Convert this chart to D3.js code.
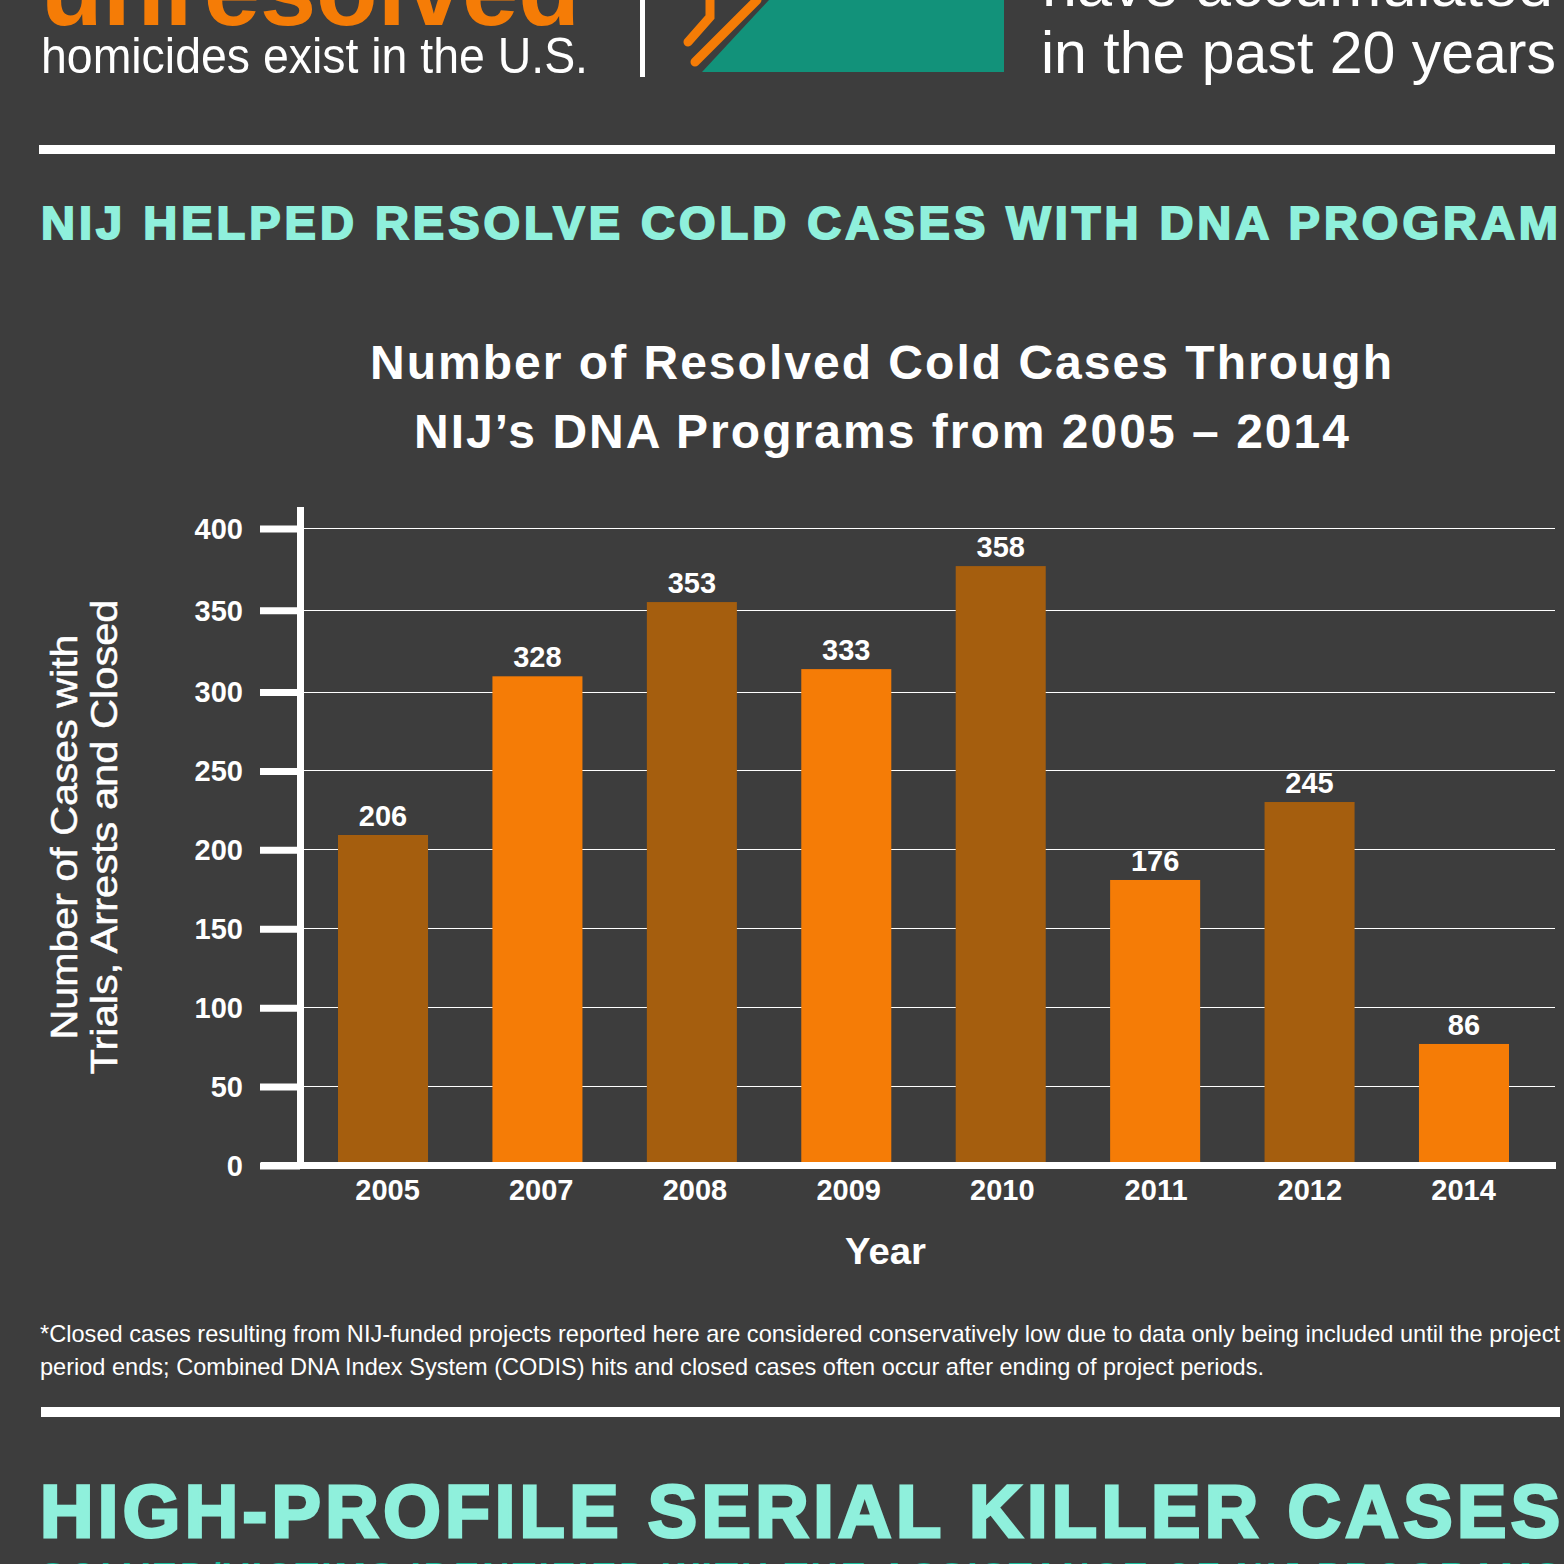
<!DOCTYPE html>
<html>
<head>
<meta charset="utf-8">
<title>Number of Resolved Cold Cases</title>
<script src="https://cdn.jsdelivr.net/npm/d3@7"></script>
<style>
    html, body { margin: 0; padding: 0; background: #3d3d3d; overflow: hidden; }
    svg { display: block; }
    text { font-family: "Liberation Sans", Arial, sans-serif; fill: #fff; }
</style>
</head>
<body>
<div id="chart"></div>
<script>
// years on the x axis (2006 and 2013 are not in the source chart)
var years = ["2005", "2007", "2008", "2009", "2010", "2011", "2012", "2014"];
// bar heights as drawn against the y axis
var barHeights = [209.4, 309.6, 355, 314, 377, 180.9, 230.3, 77];
// printed labels, they do not agree with the drawn heights in the source
var barLabels = ["206", "328", "353", "333", "358", "176", "245", "86"];
var yTicks = [0, 50, 100, 150, 200, 250, 300, 350, 400];
var barColors = ["#a55e0e", "#f57c06"];

var width = 1564;
var height = 1564;

var svg = d3.select("#chart")
    .append("svg")
    .attr("width", width)
    .attr("height", height);

svg.append("rect")
    .attr("width", width)
    .attr("height", height)
    .attr("fill", "#3d3d3d");

function addText(str, x, y, size, len, opts) {
    opts = opts || {};
    var t = svg.append("text")
        .attr("x", x)
        .attr("y", y)
        .attr("font-size", size)
        .attr("font-weight", opts.weight || "normal")
        .style("fill", opts.color || "#fff")
        .text(str);
    if (len) {
        t.attr("textLength", len).attr("lengthAdjust", opts.adjust || "spacingAndGlyphs");
    }
    if (opts.stroke) {
        t.style("stroke", opts.color || "#fff").style("stroke-width", opts.stroke);
    }
    return t;
}

/**************************** header strip ***************************/

addText("unresolved", 41, 25, 102, 539, { weight: "bold", color: "#f57c06" });
addText("homicides exist in the U.S.", 41, 73, 50, 547);

svg.append("rect").attr("x", 640).attr("y", 0).attr("width", 5).attr("height", 77).attr("fill", "#fff");

svg.append("path")
    .attr("d", "M702,72L1004,72L1004,0L769,0Z")
    .attr("fill", "#12927a");

svg.append("path")
    .attr("d", "M695,62L757,0M688,42L710,17L710,0")
    .attr("fill", "none")
    .attr("stroke", "#f57c06")
    .attr("stroke-width", 9)
    .attr("stroke-linecap", "round");

addText("have accumulated", 1042, 6, 60, 511);
addText("in the past 20 years", 1041, 73, 60, 515);

svg.append("rect").attr("x", 39).attr("y", 145).attr("width", 1516).attr("height", 9).attr("fill", "#fff");

addText("NIJ HELPED RESOLVE COLD CASES WITH DNA PROGRAM", 41, 239, 47, 1517, { weight: "bold", color: "#8ff0dc", stroke: 2, adjust: "spacing" });

/**************************** chart ***************************/

addText("Number of Resolved Cold Cases Through", 370, 379, 48, 1022, { weight: "bold", adjust: "spacing" });
addText("NIJ\u2019s DNA Programs from 2005 \u2013 2014", 414, 448, 48, 935, { weight: "bold", adjust: "spacing" });

// the source axis is a little uneven, its top 100 units are stretched
var y = d3.scaleLinear()
    .domain([0, 300, 400])
    .range([1165.5, 692, 528.5]);

var xBars = d3.scaleBand()
    .domain(years)
    .range([338, 1509])
    .paddingInner(0.417);

var xLabels = d3.scalePoint()
    .domain(years)
    .range([387, 1463]);

var color = d3.scaleOrdinal()
    .domain(years)
    .range(barColors);

// gridlines
svg.append("g")
    .selectAll("line")
    .data(yTicks.slice(1))
    .enter()
    .append("line")
    .attr("x1", 303)
    .attr("x2", 1555)
    .attr("y1", function (d) { return Math.floor(y(d)) + 0.5; })
    .attr("y2", function (d) { return Math.floor(y(d)) + 0.5; })
    .attr("stroke", "#fff")
    .attr("stroke-width", 1);

// bars
svg.append("g")
    .selectAll("rect")
    .data(years)
    .enter()
    .append("rect")
    .attr("x", function (d) { return xBars(d); })
    .attr("width", xBars.bandwidth())
    .attr("y", function (d, i) { return y(barHeights[i]); })
    .attr("height", function (d, i) { return y(0) - y(barHeights[i]); })
    .attr("fill", function (d) { return color(d); });

// printed values over the bars
svg.append("g")
    .selectAll("text")
    .data(years)
    .enter()
    .append("text")
    .attr("x", function (d) { return xBars(d) + xBars.bandwidth() / 2; })
    .attr("y", function (d, i) { return y(barHeights[i]) - 9; })
    .attr("text-anchor", "middle")
    .attr("font-size", 29)
    .attr("font-weight", "bold")
    .text(function (d, i) { return barLabels[i]; });

// y axis
var yAxis = svg.append("g")
    .attr("transform", "translate(300,0)")
    .call(d3.axisLeft(y).tickValues(yTicks).tickSize(40).tickPadding(17));

yAxis.select(".domain").remove();
yAxis.selectAll("line").attr("stroke", "#fff").attr("stroke-width", 7);
yAxis.selectAll("text")
    .attr("font-family", "Liberation Sans")
    .attr("font-size", 29)
    .attr("font-weight", "bold")
    .attr("dy", "0.34em");

svg.append("rect").attr("x", 297).attr("y", 507).attr("width", 7).attr("height", 662).attr("fill", "#fff");

// x axis
var xAxis = svg.append("g")
    .attr("transform", "translate(0,1165.5)")
    .call(d3.axisBottom(xLabels).tickSize(0).tickPadding(14));

xAxis.select(".domain").remove();
xAxis.selectAll("text")
    .attr("font-family", "Liberation Sans")
    .attr("font-size", 29)
    .attr("font-weight", "bold");

svg.append("rect").attr("x", 261).attr("y", 1162).attr("width", 1295).attr("height", 7).attr("fill", "#fff");

addText("Year", 845, 1264, 37, 81, { weight: "bold" });

function addRotated(str, x, yMid, len) {
    svg.append("text")
        .attr("transform", "translate(" + x + "," + yMid + ") rotate(-90)")
        .attr("text-anchor", "middle")
        .attr("font-size", 37)
        .attr("textLength", len)
        .attr("lengthAdjust", "spacingAndGlyphs")
        .style("stroke", "#fff")
        .style("stroke-width", 0.5)
        .text(str);
}
addRotated("Number of Cases with", 77, 837, 405);
addRotated("Trials, Arrests and Closed", 117, 837, 475);

/**************************** footnote and what follows ***************************/

addText("*Closed cases resulting from NIJ-funded projects reported here are considered conservatively low due to data only being included until the project", 40, 1342, 24, 1520);
addText("period ends; Combined DNA Index System (CODIS) hits and closed cases often occur after ending of project periods.", 40, 1375, 24, 1224);

svg.append("rect").attr("x", 41).attr("y", 1407).attr("width", 1519).attr("height", 10).attr("fill", "#fff");

addText("HIGH-PROFILE SERIAL KILLER CASES", 40, 1537, 74, 1520, { weight: "bold", color: "#8ff0dc", stroke: 3, adjust: "spacing" });
addText("SOLVED/VICTIMS IDENTIFIED WITH THE ASSISTANCE OF NIJ PROGRAMS", 40, 1590, 38, 1520, { weight: "bold", color: "#1abc9c", adjust: "spacing" });
</script>
</body>
</html>
